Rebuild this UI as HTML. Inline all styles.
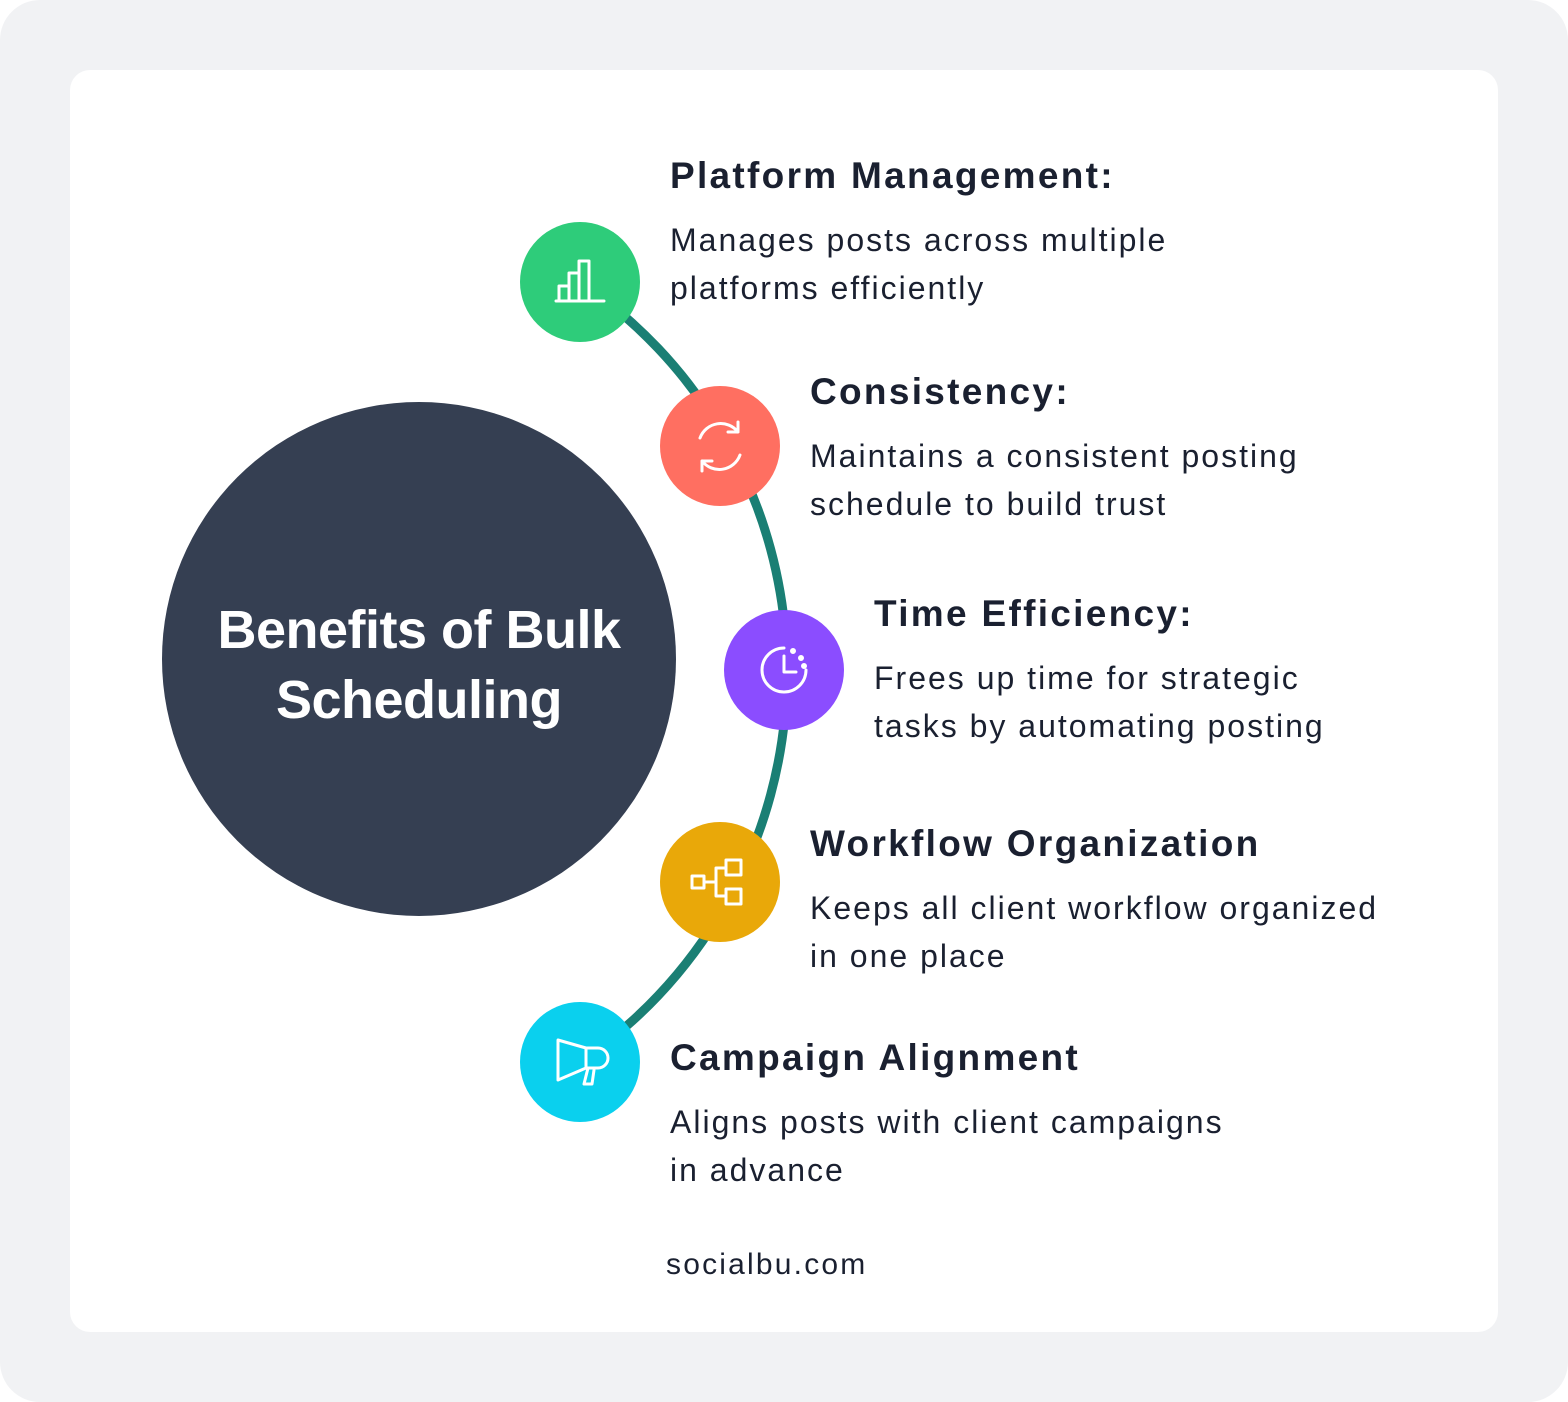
<!DOCTYPE html>
<html><head><meta charset="utf-8"><style>
html,body{margin:0;padding:0;background:#fff;}
body{width:1568px;height:1402px;position:relative;overflow:hidden;font-family:"Liberation Sans",sans-serif;}
.bg{position:absolute;left:0;top:0;width:1568px;height:1402px;background:#f1f2f4;border-radius:40px;}
.card{position:absolute;left:70px;top:70px;width:1428px;height:1262px;background:#fff;border-radius:20px;}
.t{position:absolute;color:#1a2030;font-weight:bold;font-size:37px;letter-spacing:2.3px;white-space:nowrap;}
.d{position:absolute;color:#1a2030;font-size:32px;letter-spacing:2px;line-height:48px;white-space:nowrap;}
</style></head><body>
<div class="bg"></div>
<div class="card"></div>
<svg width="1568" height="1402" style="position:absolute;left:0;top:0">
<path d="M580,282 A471,471 0 0 1 580,1062" fill="none" stroke="#1a7f74" stroke-width="9"/>
<circle cx="419" cy="659" r="257" fill="#353f52"/>
<text x="419" y="648" text-anchor="middle" fill="#fff" font-family="Liberation Sans" font-weight="bold" font-size="54" letter-spacing="-0.5">Benefits of Bulk</text>
<text x="419" y="718" text-anchor="middle" fill="#fff" font-family="Liberation Sans" font-weight="bold" font-size="54" letter-spacing="-0.5">Scheduling</text>
<circle cx="580" cy="282" r="60" fill="#2ecc7a"/>
<circle cx="720" cy="446" r="60" fill="#ff6f61"/>
<circle cx="784" cy="670" r="60" fill="#8b4dff"/>
<circle cx="720" cy="882" r="60" fill="#e9a809"/>
<circle cx="580" cy="1062" r="60" fill="#0ad0ee"/>
<g fill="none" stroke="#fff" stroke-width="3" stroke-linejoin="round" stroke-linecap="round">
<path d="M556,301h48M559,301v-15h10v15M569,301v-28h10v28M579,301v-40h10v40"/>
<path d="M700,438a22,22 0 0 1 38,-6M738,422v10h-10M740,455a22,22 0 0 1 -38,6M702,471v-10h10"/>
<path d="M806,670a22,22 0 1 1 -22,-22M784,656v16h12"/><circle cx="793" cy="651" r="1.5" fill="#fff"/><circle cx="801" cy="658" r="1.5" fill="#fff"/><circle cx="804" cy="666" r="1.5" fill="#fff"/>
<rect x="692" y="876" width="12" height="12"/><rect x="726" y="860" width="15" height="15"/><rect x="726" y="889" width="15" height="15"/><path d="M704,882h12M716,868v28M716,868h10M716,896h10"/>
<path d="M558,1040v40l28,-12h12a10,10 0 0 0 0,-20h-12z M586,1048v20 M588,1068l-4,16h8l2,-14"/>
</g>
</svg>
<div class="t" style="left:670px;top:155px">Platform Management:</div>
<div class="d" style="left:670px;top:216px">Manages posts across multiple<br>platforms efficiently</div>
<div class="t" style="left:810px;top:371px">Consistency:</div>
<div class="d" style="left:810px;top:432px">Maintains a consistent posting<br>schedule to build trust</div>
<div class="t" style="left:874px;top:593px">Time Efficiency:</div>
<div class="d" style="left:874px;top:654px">Frees up time for strategic<br>tasks by automating posting</div>
<div class="t" style="left:810px;top:823px">Workflow Organization</div>
<div class="d" style="left:810px;top:884px">Keeps all client workflow organized<br>in one place</div>
<div class="t" style="left:670px;top:1037px">Campaign Alignment</div>
<div class="d" style="left:670px;top:1098px">Aligns posts with client campaigns<br>in advance</div>
<div class="d" style="left:666px;top:1241px;font-size:30px;letter-spacing:2.2px">socialbu.com</div>
</body></html>
